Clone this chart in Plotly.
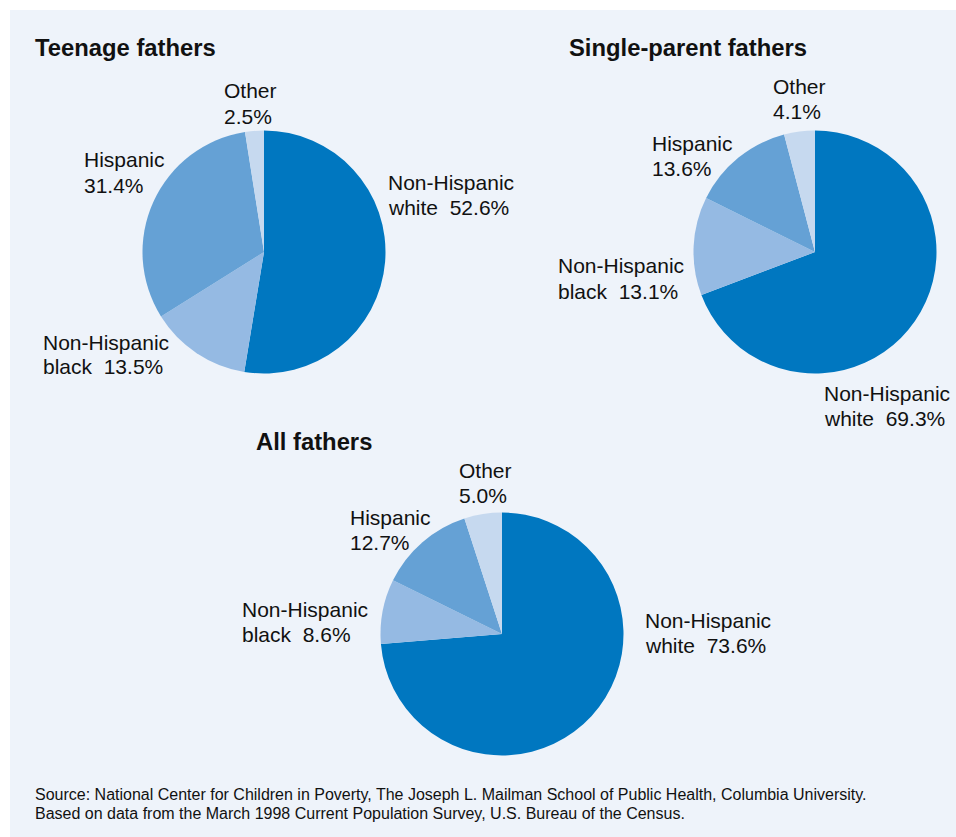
import plotly.graph_objects as go

# Race/ethnicity shares of fathers (percent), slices ordered clockwise from 12 o'clock
groups = ["Non-Hispanic white", "Non-Hispanic black", "Hispanic", "Other"]
teen_share = [52.6, 13.5, 31.4, 2.5]
single_share = [69.3, 13.1, 13.6, 4.1]
all_share = [73.6, 8.6, 12.7, 5.0]

panel_titles = ["Teenage fathers", "Single-parent fathers", "All fathers"]
source_lines = [
    "Source: National Center for Children in Poverty, The Joseph L. Mailman School of Public Health, Columbia University.",
    "Based on data from the March 1998 Current Population Survey, U.S. Bureau of the Census.",
]

slice_colors = ["#0077C0", "#95BAE3", "#65A1D5", "#C6D9EF"]
panel_bg = "#EEF3FA"

W, H = 956, 837
R = 121.5
FONT = "Liberation Sans, Arial, sans-serif"
PAD = 2  # annotation box padding, taken off the left edge


def px(x):
    return x / W


def py(y):
    return 1 - y / H


def domain(cx, cy):
    return dict(x=[px(cx - R), px(cx + R)], y=[py(cy + R), py(cy - R)])


# pie centres (pixels) and where each group's two-line label sits (left x, first-line y)
pies = [
    dict(values=teen_share, center=(264, 252), title=(35, 47),
         labels={0: (388, 182), 1: (43, 342), 2: (84, 160), 3: (224, 91)}),
    dict(values=single_share, center=(815, 252), title=(569, 47),
         labels={0: (824, 393), 1: (558, 266), 2: (652, 143), 3: (773, 87)}),
    dict(values=all_share, center=(502, 634), title=(256, 441),
         labels={0: (645, 620), 1: (242, 609), 2: (350, 517), 3: (459, 470)}),
]

fig = go.Figure()
annotations = []


def add_text(x, y, text, size, bold=False):
    annotations.append(dict(
        x=px(x - PAD), y=py(y), xref="paper", yref="paper",
        xanchor="left", yanchor="middle", showarrow=False,
        text=f"<b>{text}</b>" if bold else text,
        font=dict(family=FONT, size=size, color="#111111"),
    ))


LINE = 25
for p, ttl in zip(pies, panel_titles):
    fig.add_trace(go.Pie(
        values=p["values"], labels=groups, sort=False, direction="clockwise",
        rotation=0, textinfo="none", hoverinfo="label+percent",
        marker=dict(colors=slice_colors, line=dict(width=0)),
        domain=domain(*p["center"]), showlegend=False,
    ))
    add_text(p["title"][0], p["title"][1], ttl, 23.8, bold=True)
    for i, (lx, ly) in p["labels"].items():
        v = p["values"][i]
        if groups[i].startswith("Non-Hispanic"):
            first = "Non-Hispanic"
            second = f"{groups[i].split()[-1]}  {v:.1f}%"
        else:
            first = groups[i]
            second = f"{v:.1f}%"
        add_text(lx, ly, first, 21)
        add_text(lx, ly + LINE, second, 21)

for k, line in enumerate(source_lines):
    add_text(35, 794 + 19 * k, line, 16)

fig.update_layout(
    width=W, height=H,
    margin=dict(l=0, r=0, t=0, b=0),
    paper_bgcolor="white", plot_bgcolor="white",
    annotations=annotations,
    shapes=[dict(type="rect", xref="paper", yref="paper",
                 x0=px(10), x1=1, y0=0, y1=py(10),
                 fillcolor=panel_bg, line=dict(width=0), layer="below")],
)

fig.write_html("out.html")
